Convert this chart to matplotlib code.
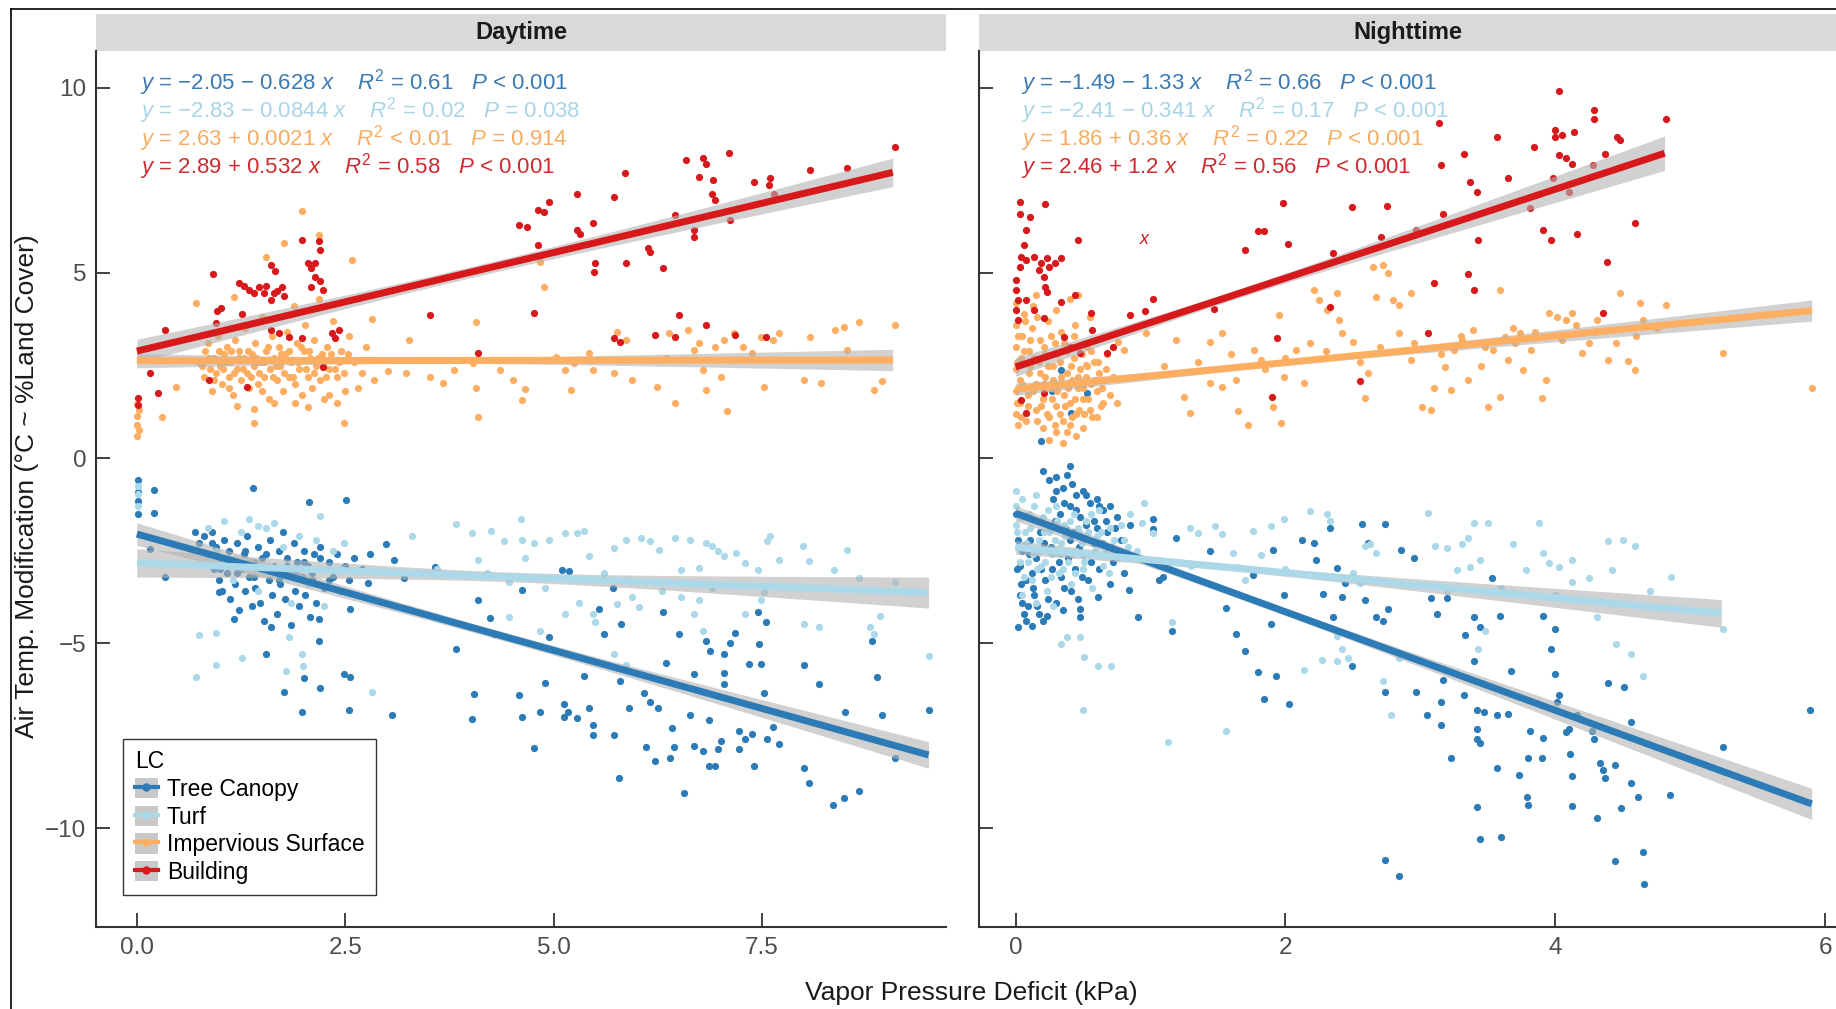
import matplotlib
matplotlib.use("Agg")
import matplotlib.pyplot as plt
import numpy as np
from matplotlib.patches import Rectangle, Patch
from matplotlib.lines import Line2D

plt.rcParams['font.family'] = ['Liberation Sans', 'DejaVu Sans']
plt.rcParams['mathtext.fontset'] = 'custom'
plt.rcParams['mathtext.rm'] = 'Liberation Sans'
plt.rcParams['mathtext.it'] = 'Liberation Sans:italic'

# ---- data ----
lc_names = ["Tree Canopy", "Turf", "Impervious Surface", "Building"]
lc_colors = ["#2c7bb6", "#abd9e9", "#fdae61", "#d7191c"]
eq_colors = ["#3a7ab3", "#a8d5e6", "#f6ad62", "#cf2a2f"]
panel_titles = ["Daytime", "Nighttime"]

# intercept, slope as printed on the chart
day_fit = [(-2.05, -0.628), (-2.83, -0.0844), (2.63, 0.0021), (2.89, 0.532)]
night_fit = [(-1.49, -1.33), (-2.41, -0.341), (1.86, 0.36), (2.46, 1.2)]
day_eq = ["$y$ = \u22122.05 \u2212 0.628 $x$    $R^2$ = 0.61   $P$ < 0.001",
          "$y$ = \u22122.83 \u2212 0.0844 $x$    $R^2$ = 0.02   $P$ = 0.038",
          "$y$ = 2.63 + 0.0021 $x$    $R^2$ < 0.01   $P$ = 0.914",
          "$y$ = 2.89 + 0.532 $x$    $R^2$ = 0.58   $P$ < 0.001"]
night_eq = ["$y$ = \u22121.49 \u2212 1.33 $x$    $R^2$ = 0.66   $P$ < 0.001",
            "$y$ = \u22122.41 \u2212 0.341 $x$    $R^2$ = 0.17   $P$ < 0.001",
            "$y$ = 1.86 + 0.36 $x$    $R^2$ = 0.22   $P$ < 0.001",
            "$y$ = 2.46 + 1.2 $x$    $R^2$ = 0.56   $P$ < 0.001"]
# x span of each fitted line, and CI band shape (mean x, min half width, growth)
day_span = [(0, 9.5), (0, 9.5), (0, 9.07), (0, 9.07)]
night_span = [(0, 5.9), (0, 5.23), (0, 5.9), (0, 4.81)]
day_band = [(4.3, 0.12, 0.065), (4.5, 0.13, 0.08), (3.5, 0.08, 0.05), (4.0, 0.15, 0.07)]
night_band = [(1.8, 0.10, 0.10), (1.6, 0.09, 0.10), (2.0, 0.08, 0.07), (1.6, 0.12, 0.14)]

day_tree = [(0.01,-1.15),(0.01,-1.51),(0.01,-0.92),(0.01,-0.6),(0.21,-0.87),(0.21,-1.47),(1.39,-0.81),(2.07,-1.19),
    (2.51,-1.12),(0.34,-3.22),(0.16,-2.45),(0.98,-3.61),(1.17,-4.34),(1.55,-5.28),(1.61,-4.57),(1.77,-6.32),
    (1.98,-6.85),(2.0,-5.94),(2.18,-4.94),(2.18,-4.34),(2.2,-6.2),(2.49,-5.83),(2.56,-5.92),(2.55,-6.81),
    (3.06,-6.95),(2.99,-2.31),(2.77,-3.38),(2.56,-4.07),(3.08,-2.74),(3.21,-3.25),(3.58,-2.95),(3.83,-5.16),
    (4.02,-7.05),(4.05,-6.38),(4.09,-3.84),(4.24,-4.32),(4.29,-4.75),(4.58,-6.4),(4.62,-6.99),(4.62,-3.55),
    (4.77,-7.84),(4.84,-6.85),(4.9,-6.08),(4.95,-4.84),(5.12,-6.63),(5.12,-6.99),(5.17,-6.85),(5.1,-3.02),
    (5.19,-3.06),(5.28,-7.02),(5.36,-5.89),(5.42,-6.74),(5.47,-7.22),(5.47,-7.49),(5.54,-4.07),(5.61,-4.75),
    (5.71,-3.52),(5.72,-7.47),(5.78,-8.63),(5.8,-6.03),(5.81,-4.48),(5.91,-6.76),(6.09,-6.35),(6.16,-6.58),
    (6.25,-6.76),(6.11,-7.81),(6.22,-8.18),(6.4,-8.11),(6.35,-5.53),(6.31,-4.16),(6.42,-7.29),(6.44,-7.81),
    (6.5,-4.75),(6.57,-9.05),(6.64,-6.95),(6.68,-5.83),(6.68,-7.77),(6.79,-7.9),(6.83,-4.94),(6.88,-5.21),
    (6.86,-7.08),(6.86,-8.32),(6.94,-8.32),(6.97,-7.86),(7.01,-7.63),(7.05,-5.3),(7.05,-5.8),(7.05,-6.1),
    (7.12,-4.98),(7.18,-4.71),(7.23,-7.36),(7.23,-7.86),(7.3,-7.58),(7.35,-5.56),(7.38,-7.45),(7.41,-8.32),
    (7.45,-4.16),(7.47,-5.03),(7.49,-5.56),(7.52,-6.35),(7.55,-4.43),(7.56,-7.58),(7.63,-7.26),(7.71,-7.72),
    (8.0,-5.58),(8.0,-8.36),(8.07,-8.77),(8.19,-6.1),(8.35,-9.37),(8.48,-9.18),(8.66,-9.0),(8.5,-6.85),
    (8.82,-4.94),(8.88,-5.92),(8.94,-6.95),(9.1,-8.11),(9.51,-6.79),
    (0.7,-2.0),(0.75,-2.3),(0.8,-2.1),(0.85,-2.6),(0.9,-2.0),(0.92,-3.0),(0.95,-2.4),(0.98,-3.3),(1.0,-2.7),
    (1.02,-3.6),(1.05,-2.2),(1.08,-3.1),(1.1,-2.5),(1.12,-3.8),(1.15,-2.9),(1.18,-3.4),(1.2,-2.3),(1.22,-4.1),
    (1.25,-3.0),(1.28,-2.6),(1.3,-3.6),(1.32,-2.1),(1.35,-3.2),(1.38,-4.0),(1.4,-2.8),(1.42,-3.5),(1.45,-2.4),
    (1.48,-3.9),(1.5,-3.0),(1.52,-4.4),(1.55,-2.6),(1.58,-3.3),(1.6,-2.2),(1.62,-3.7),(1.65,-2.9),(1.68,-4.2),
    (1.7,-2.5),(1.72,-3.4),(1.75,-2.0),(1.78,-3.8),(1.8,-2.7),(1.82,-3.1),(1.85,-4.5),(1.88,-2.3),(1.9,-3.6),
    (1.92,-2.8),(1.95,-4.0),(1.98,-3.2),(2.0,-2.5),(2.02,-3.7),(2.05,-2.9),(2.08,-4.3),(2.1,-3.3),(2.12,-2.6),
    (2.15,-3.9),(2.18,-3.0),(2.2,-2.4),(2.25,-3.5),(2.3,-2.8),(2.35,-3.2),(2.4,-2.6),(2.45,-3.6),(2.5,-2.9),
    (2.55,-3.3),(2.6,-2.7),(2.7,-3.0),(2.8,-2.6),
    (0.9,-2.3),(1.0,-3.0),(1.1,-2.8),(1.2,-3.1),(1.3,-2.5),(1.4,-3.2),(1.5,-2.7),(1.6,-3.0),(1.7,-3.3),
    (1.8,-2.9),(1.9,-3.1),(2.0,-2.8),(2.1,-3.1),(2.2,-2.7),(2.3,-3.3)]

day_turf = [(0.01,-0.74),(0.01,-0.96),(0.01,-1.28),(0.74,-4.77),(0.71,-5.92),(0.95,-5.58),(0.95,-4.71),(1.26,-5.39),
    (1.34,-1.65),(1.45,-1.83),(1.65,-1.74),(1.83,-4.84),(1.79,-5.74),(1.98,-5.3),(1.99,-5.62),(2.2,-1.56),
    (2.49,-2.29),(2.82,-6.32),(3.83,-1.79),(4.02,-2.01),(4.25,-1.97),(4.4,-2.24),(4.09,-2.74),(4.61,-1.65),
    (4.62,-2.2),(4.77,-2.29),(4.95,-2.2),(5.14,-2.01),(5.28,-2.01),(5.36,-1.97),(4.84,-4.66),(5.14,-4.21),
    (4.47,-4.3),(4.47,-3.34),(4.66,-2.7),(5.43,-2.65),(5.47,-4.21),(5.5,-4.43),(5.72,-2.42),(5.87,-2.2),
    (6.05,-2.15),(6.16,-2.24),(6.27,-2.47),(5.76,-3.93),(5.94,-3.75),(6.02,-4.02),(6.46,-2.15),(6.53,-3.02),
    (6.64,-2.2),(6.75,-2.97),(6.83,-2.29),(6.9,-2.38),(6.97,-2.52),(7.05,-2.65),(6.53,-3.75),(6.68,-4.21),
    (6.75,-3.84),(6.79,-4.66),(7.19,-2.56),(7.3,-2.84),(7.45,-3.02),(7.56,-2.24),(7.71,-2.74),(7.52,-3.61),
    (7.49,-3.84),(7.99,-2.38),(8.06,-2.79),(8.52,-2.47),(8.37,-3.02),(8.0,-4.48),(8.19,-4.57),(8.66,-3.25),
    (8.8,-4.57),(8.92,-4.25),(8.85,-4.75),(9.1,-3.34),(9.51,-5.35),(5.72,-5.3),(5.87,-5.58),
    (0.85,-1.9),(0.95,-2.5),(1.05,-1.7),(1.15,-3.3),(1.25,-2.0),(1.35,-2.8),(1.45,-3.6),(1.55,-1.9),(1.65,-3.1),
    (1.75,-2.4),(1.85,-3.9),(1.95,-2.1),(2.05,-3.4),(2.15,-2.2),(2.25,-4.0),(2.35,-2.5),(2.45,-3.0),(3.3,-2.1),
    (3.6,-3.0),(4.2,-3.1),(4.9,-3.5),(5.3,-3.9),(5.6,-3.1),(5.9,-3.3),(6.3,-3.6),(6.9,-3.5),(7.3,-4.2),(7.6,-2.1)]

day_imperv = [(0.0,1.45),(0.0,1.15),(0.0,0.9),(0.0,0.6),(0.02,1.3),(0.03,0.75),(0.3,1.12),(0.47,1.93),(0.71,4.2),
    (1.17,4.36),(1.55,5.42),(1.77,5.8),(1.98,6.67),(2.18,6.02),(2.58,5.35),(2.82,3.75),(2.49,0.96),(1.4,1.32),
    (1.4,0.94),(2.05,1.39),(3.26,3.19),(3.01,2.34),(3.23,2.31),(3.52,2.2),(3.67,2.04),(3.81,2.38),(4.07,3.68),
    (4.03,2.56),(4.07,1.89),(4.09,1.12),(4.36,2.38),(4.51,2.11),(4.66,1.86),(4.62,1.57),(4.88,4.63),(4.84,5.3),
    (4.92,2.65),(5.03,2.74),(5.14,2.38),(5.25,2.56),(5.43,2.83),(5.21,1.84),(5.47,2.38),(5.76,3.41),(5.72,2.31),
    (5.87,3.19),(5.94,2.11),(6.22,2.65),(6.35,2.7),(6.24,1.93),(6.39,3.37),(6.46,1.48),(6.61,3.46),(6.68,2.92),
    (6.74,3.1),(6.79,2.38),(6.83,1.84),(6.94,3.01),(7.05,3.19),(7.16,3.37),(7.08,1.26),(7.01,2.2),(7.27,3.01),
    (7.38,2.83),(7.49,3.28),(7.52,1.93),(7.63,3.19),(7.71,3.37),(8.0,2.11),(8.08,3.28),(8.21,2.02),(8.38,3.46),
    (8.48,3.55),(8.52,2.92),(8.66,3.68),(8.85,1.84),(8.94,2.07),(9.1,3.59),
    (0.75,2.6),(0.8,2.2),(0.82,2.9),(0.85,3.1),(0.88,2.4),(0.9,1.8),(0.92,2.7),(0.95,2.3),(0.97,3.3),(1.0,2.5),
    (1.02,2.0),(1.05,2.8),(1.08,3.0),(1.1,2.2),(1.12,2.6),(1.15,1.7),(1.18,3.2),(1.2,2.4),(1.22,2.9),(1.25,2.1),
    (1.28,2.7),(1.3,3.5),(1.32,2.3),(1.35,1.9),(1.38,2.8),(1.4,2.5),(1.42,3.1),(1.45,2.0),(1.48,2.6),(1.5,3.8),
    (1.52,2.2),(1.55,2.9),(1.58,1.6),(1.6,2.4),(1.62,3.3),(1.65,2.7),(1.68,2.1),(1.7,3.0),(1.72,2.5),(1.75,1.8),
    (1.78,2.8),(1.8,3.4),(1.82,2.2),(1.85,2.6),(1.88,4.1),(1.9,2.0),(1.92,3.1),(1.95,2.4),(1.98,1.7),(2.0,2.9),
    (2.02,3.6),(2.05,2.2),(2.08,2.7),(2.1,1.9),(2.12,3.2),(2.15,2.5),(2.18,4.3),(2.2,2.1),(2.22,2.8),(2.25,1.6),
    (2.28,3.0),(2.3,2.4),(2.35,3.7),(2.4,2.2),(2.45,2.9),(2.5,1.8),(2.55,3.3),(2.6,2.6),(2.65,1.9),(2.7,2.3),
    (2.75,3.0),(2.85,2.1),(1.2,1.4),(1.65,1.5),(2.4,1.5),
    (0.78,2.5),(0.86,2.7),(0.93,2.1),(0.99,2.9),(1.03,2.4),(1.07,2.6),(1.13,2.9),(1.17,2.3),(1.23,2.7),(1.27,2.4),
    (1.33,2.9),(1.37,2.2),(1.43,2.7),(1.47,2.3),(1.53,2.6),(1.57,3.0),(1.63,2.2),(1.67,2.5),(1.73,2.8),(1.77,2.3),
    (1.83,2.9),(1.87,2.2),(1.93,2.6),(1.97,3.0),(2.03,2.4),(2.07,2.9),(2.13,2.3),(2.17,2.7),(2.23,2.5),(2.27,2.2),
    (2.33,2.8),(2.38,2.4),(2.43,2.6),(2.48,2.3),(2.53,2.8),(1.1,1.9),(1.5,1.8),(1.9,1.5),(2.3,1.7)]

day_building = [(0.01,1.62),(0.01,1.44),(0.16,2.29),(0.25,1.75),(0.34,3.46),(0.91,4.97),(0.96,3.98),(1.01,4.04),
    (0.95,3.64),(1.26,3.89),(1.23,4.72),(1.28,4.64),(1.35,4.54),(1.4,4.45),(1.46,4.61),(1.52,4.47),(1.55,4.65),
    (1.61,4.27),(1.65,4.45),(1.68,4.52),(1.74,4.63),(1.77,4.38),(1.61,5.21),(1.66,5.06),(1.98,5.9),(2.18,5.87),
    (2.2,5.63),(2.05,5.26),(2.14,5.26),(2.09,5.12),(2.14,4.9),(2.2,4.79),(2.09,4.63),(2.23,4.54),(1.61,3.46),
    (1.7,3.37),(1.83,3.28),(1.98,3.23),(2.34,3.37),(2.38,3.23),(2.42,3.46),(1.32,1.93),(2.23,2.47),(0.87,2.11),
    (3.52,3.86),(4.09,2.85),(4.77,3.91),(4.58,6.29),(4.68,6.24),(4.81,6.69),(4.88,6.65),(4.95,6.92),(4.81,5.75),
    (5.28,7.14),(5.72,7.05),(5.28,6.15),(5.32,6.06),(5.47,6.35),(5.5,5.26),(5.49,5.03),(5.87,5.26),(5.86,7.71),
    (6.13,5.66),(6.16,5.57),(6.31,5.12),(5.72,3.23),(5.8,3.14),(6.22,3.32),(6.5,3.86),(6.46,6.56),(6.59,8.04),
    (6.79,8.09),(6.83,7.95),(7.11,8.25),(6.75,7.59),(6.91,7.5),(6.9,7.14),(6.94,6.96),(6.68,6.15),(6.68,5.96),
    (6.83,3.59),(7.18,3.32),(7.12,6.42),(7.4,7.46),(7.6,7.55),(7.58,7.37),(7.65,7.14),(7.55,3.28),(8.08,7.77),
    (8.52,7.82),(9.1,8.4),(6.46,3.28)]

night_tree = [(0.34,2.38),(0.27,1.8),(0.42,1.17),(0.53,1.75),(0.19,0.45),(0.4,-0.22),(0.41,1.21),
    (0.02,-4.57),(0.12,-4.53),(0.23,-4.25),(0.48,-4.07),(0.48,-4.3),(0.61,-3.75),(0.84,-3.57),(0.91,-4.3),
    (1.02,-1.65),(1.02,-1.92),(1.09,-3.2),(1.06,-3.29),(1.16,-4.66),(1.19,-2.15),(1.44,-2.52),(1.56,-4.04),
    (1.63,-4.74),(1.7,-5.21),(1.76,-3.16),(1.8,-5.78),(1.93,-5.87),(1.84,-6.51),(1.89,-4.48),(1.91,-2.47),
    (1.99,-3.7),(2.03,-6.63),(2.12,-2.2),(2.21,-2.29),(2.23,-2.74),(2.28,-3.66),(2.33,-1.88),(2.35,-4.3),
    (2.38,-2.97),(2.42,-3.75),(2.44,-3.38),(2.49,-5.62),(2.57,-1.79),(2.74,-1.79),(2.61,-2.29),(2.59,-3.84),
    (2.67,-4.3),(2.72,-4.39),(2.76,-4.07),(2.74,-6.32),(2.74,-10.85),(2.84,-11.28),(2.86,-2.47),(2.95,-2.7),
    (2.97,-6.31),(3.05,-6.95),(3.08,-3.79),(3.12,-4.21),(3.15,-6.58),(3.15,-7.22),(3.17,-5.99),(3.2,-3.79),
    (3.23,-8.11),(3.32,-6.4),(3.33,-4.77),(3.4,-4.3),(3.44,-4.57),(3.42,-9.41),(3.44,-10.28),(3.42,-7.31),
    (3.42,-7.58),(3.44,-7.68),(3.42,-6.81),(3.47,-6.85),(3.4,-5.48),(3.46,-6.08),(3.53,-3.25),(3.57,-6.95),
    (3.65,-6.9),(3.57,-8.36),(3.59,-4.25),(3.6,-10.23),(3.67,-5.76),(3.73,-8.57),(3.79,-9.14),(3.8,-9.37),
    (3.8,-8.11),(3.81,-7.36),(3.9,-8.09),(3.91,-7.57),(3.91,-4.25),(3.97,-5.16),(4.0,-4.62),(4.0,-5.83),
    (4.01,-6.58),(4.03,-6.4),(4.08,-7.4),(4.1,-7.31),(4.11,-8.0),(4.12,-8.59),(4.12,-9.39),(4.16,-6.95),
    (4.19,-7.04),(4.27,-7.36),(4.29,-7.58),(4.31,-9.73),(4.33,-8.22),(4.35,-8.41),(4.37,-8.63),(4.44,-8.3),
    (4.39,-6.08),(4.51,-6.17),(4.44,-10.87),(4.49,-9.46),(4.56,-7.13),(4.56,-8.77),(4.61,-9.14),(4.65,-10.64),
    (4.66,-11.51),(4.85,-9.09),(5.24,-7.81),(5.89,-6.81),
    (0.2,-0.35),(0.25,-0.6),(0.3,-0.5),(0.35,-0.8),(0.38,-0.45),(0.42,-0.7),(0.45,-1.0),(0.5,-0.9),(0.55,-1.2),
    (0.6,-1.1),(0.65,-1.4),(0.7,-1.3),(0.75,-1.6),(0.28,-1.1),(0.33,-1.5),(0.4,-1.3),(0.48,-1.6),(0.58,-1.7),
    (0.68,-2.0),(0.78,-2.2),(0.85,-1.8),(0.0,-1.5),(0.02,-2.2),(0.03,-2.9),(0.04,-3.4),(0.05,-3.9),(0.06,-4.2),
    (0.1,-2.6),(0.12,-3.1),(0.14,-3.7),(0.16,-4.0),(0.18,-2.0),(0.22,-3.3),(0.26,-2.4),(0.3,-3.9),(0.32,-2.8),
    (0.36,-3.5),(0.4,-2.2),(0.44,-3.0),(0.46,-3.8),(0.5,-2.6),(0.54,-3.3),(0.58,-2.3),(0.62,-3.0),(0.66,-2.6),
    (0.7,-3.4),(0.72,-2.8),(0.8,-3.1),(0.08,-4.4),(0.2,-4.4),(0.35,-4.1),
    (0.01,-3.0),(0.03,-3.7),(0.05,-2.5),(0.08,-3.3),(0.09,-4.0),(0.11,-2.2),(0.13,-3.5),(0.15,-2.7),(0.17,-4.2),
    (0.19,-3.0),(0.21,-2.3),(0.24,-3.8),(0.27,-3.0),(0.29,-1.7),(0.31,-2.5),(0.34,-3.2),(0.37,-1.9),(0.39,-2.7),
    (0.41,-3.6),(0.43,-2.0),(0.47,-2.4),(0.49,-3.2),(0.52,-1.8),(0.56,-2.8),(0.6,-1.9),(0.64,-2.3),(0.67,-1.7),
    (0.71,-2.4),(0.74,-1.9),(0.82,-2.6),(0.3,-0.9),(0.36,-1.2),(0.45,-1.4),(0.52,-1.0),(0.62,-1.3)]

night_turf = [(0.34,-5.03),(0.38,-4.84),(0.48,-4.84),(0.51,-5.37),(0.61,-5.62),(0.71,-5.62),(0.5,-6.81),
    (0.94,-1.74),(1.02,-2.01),(1.13,-7.66),(1.16,-4.43),(1.29,-1.88),(1.35,-2.01),(1.48,-1.83),(1.53,-2.06),
    (1.56,-7.36),(1.61,-2.56),(1.65,-2.93),(1.76,-1.97),(1.82,-2.61),(1.89,-1.83),(1.99,-1.65),(2.14,-5.71),
    (2.18,-1.42),(2.27,-5.44),(2.38,-5.48),(2.31,-1.51),(2.33,-1.69),(2.38,-4.8),(2.42,-5.16),(2.46,-5.39),
    (2.59,-2.38),(2.63,-2.33),(2.67,-2.56),(2.55,-3.38),(2.61,-3.29),(2.72,-6.03),(2.78,-6.95),(2.84,-5.39),
    (3.06,-1.47),(3.11,-2.38),(3.2,-2.42),(3.31,-2.33),(3.35,-2.15),(3.27,-3.02),(3.37,-2.93),(3.44,-2.74),
    (3.4,-1.74),(3.5,-1.74),(3.43,-5.16),(3.48,-4.66),(3.69,-2.33),(3.78,-3.02),(3.88,-1.74),(3.91,-2.56),
    (3.95,-2.84),(4.03,-2.93),(4.12,-2.74),(4.12,-3.34),(4.25,-3.25),(4.31,-4.3),(4.39,-2.24),(4.5,-2.2),
    (4.59,-2.38),(4.42,-3.02),(4.45,-5.01),(4.56,-5.3),(4.65,-5.89),(4.86,-3.2),(5.24,-4.62),
    (1.3,-2.9),(1.7,-3.3),(2.0,-3.0),(2.5,-3.1),(2.9,-3.4),(3.2,-3.6),(3.6,-3.5),(4.0,-3.7),(4.4,-3.9),(4.7,-3.6),
    (0.0,-0.9),(0.0,-1.3),(0.0,-1.8),(0.02,-2.4),(0.05,-1.1),(0.07,-2.0),(0.09,-2.8),(0.1,-1.5),(0.12,-3.3),
    (0.15,-1.0),(0.17,-2.2),(0.19,-2.9),(0.2,-1.6),(0.23,-3.6),(0.25,-2.0),(0.27,-2.6),(0.3,-1.3),(0.32,-3.1),
    (0.34,-2.3),(0.36,-1.8),(0.39,-2.8),(0.41,-3.4),(0.43,-1.5),(0.45,-2.5),(0.47,-2.0),(0.5,-3.0),(0.52,-1.7),
    (0.55,-2.6),(0.57,-3.5),(0.6,-2.1),(0.62,-1.4),(0.65,-2.9),(0.68,-2.4),(0.7,-1.9),(0.75,-2.7),(0.8,-2.2),
    (0.85,-1.5),(0.9,-2.5),(0.95,-1.2),(0.05,-3.7),(0.15,-3.9),(0.28,-4.0),
    (0.01,-2.0),(0.03,-2.8),(0.04,-1.6),(0.06,-3.2),(0.08,-2.3),(0.11,-1.9),(0.13,-2.6),(0.14,-1.3),(0.16,-3.0),
    (0.18,-2.5),(0.21,-2.0),(0.22,-2.8),(0.24,-1.4),(0.26,-3.2),(0.29,-2.2),(0.31,-1.7),(0.33,-2.6),(0.35,-3.0),
    (0.37,-2.1),(0.4,-1.7),(0.42,-2.6),(0.44,-3.1),(0.46,-1.9),(0.49,-2.3),(0.51,-2.8),(0.54,-2.0),(0.56,-1.5),
    (0.59,-2.5),(0.63,-2.0),(0.66,-2.6),(0.69,-3.1),(0.73,-2.2),(0.78,-1.8),(0.83,-2.4)]

night_imperv = [(0.46,4.4),(0.52,2.52),(0.76,3.14),(0.8,2.92),(0.97,3.37),(1.19,3.19),(1.25,1.66),(1.29,1.21),
    (1.44,3.14),(1.53,3.37),(1.44,2.02),(1.53,1.93),(1.63,2.11),(1.65,1.26),(1.72,0.9),(1.77,2.92),(1.82,2.65),
    (1.91,1.39),(1.97,0.94),(1.99,2.2),(1.95,3.86),(2.08,2.92),(2.14,2.02),(2.18,3.1),(2.21,4.54),(2.25,4.27),
    (2.31,4.0),(2.38,4.45),(2.4,3.73),(2.42,3.37),(2.5,3.14),(2.59,1.62),(2.61,2.29),(2.65,5.17),(2.72,5.21),
    (2.76,4.99),(2.67,4.36),(2.8,4.27),(2.84,4.13),(2.93,4.45),(2.84,3.37),(2.93,2.65),(3.01,1.39),(3.08,1.3),
    (3.18,2.47),(3.25,2.92),(3.31,3.19),(3.39,3.46),(3.1,1.89),(3.23,1.84),(3.35,2.11),(3.48,3.01),(3.54,2.92),
    (3.63,3.28),(3.69,3.5),(3.5,1.39),(3.59,1.66),(3.65,2.65),(3.76,2.38),(3.82,2.92),(3.9,1.62),(3.93,2.11),
    (3.95,3.91),(4.01,3.82),(4.08,3.73),(4.12,3.91),(4.2,2.83),(4.25,3.1),(4.31,3.73),(4.39,2.65),(4.48,4.45),
    (4.54,2.61),(4.59,2.38),(4.63,4.18),(4.65,3.73),(4.82,4.13),(5.24,2.83),(5.9,1.89),(3.59,4.54),(3.74,3.37),
    (1.1,2.5),(1.35,2.6),(1.6,2.8),(1.85,2.4),(2.0,2.7),(2.3,2.9),(2.55,2.6),(2.7,3.0),(2.95,3.1),(3.15,2.8),
    (3.3,3.3),(3.45,2.5),(3.7,3.1),(3.85,3.4),(4.05,3.2),(4.15,3.6),(4.3,3.4),(4.45,3.1),(4.6,3.3),(4.75,3.5),
    (0.0,1.2),(0.0,1.8),(0.0,2.4),(0.0,3.0),(0.0,3.6),(0.0,4.2),(0.02,0.9),(0.03,1.5),(0.03,2.1),(0.04,2.7),
    (0.05,3.3),(0.06,3.9),(0.08,1.0),(0.09,1.7),(0.1,2.3),(0.1,2.9),(0.12,3.5),(0.13,4.1),(0.15,1.3),(0.15,2.0),
    (0.17,2.6),(0.18,3.2),(0.2,0.8),(0.2,1.6),(0.22,2.2),(0.22,2.8),(0.24,3.7),(0.25,1.1),(0.26,1.9),(0.28,2.5),
    (0.29,3.1),(0.3,0.7),(0.3,1.4),(0.32,2.0),(0.33,2.6),(0.34,3.4),(0.35,1.0),(0.36,1.7),(0.38,2.3),(0.38,2.9),
    (0.4,0.9),(0.4,1.5),(0.42,2.1),(0.43,2.7),(0.44,3.6),(0.45,1.2),(0.46,1.9),(0.48,2.4),(0.5,0.8),(0.5,1.6),
    (0.52,2.2),(0.53,3.0),(0.55,1.3),(0.56,2.0),(0.58,2.6),(0.6,1.1),(0.6,1.8),(0.62,2.3),(0.65,1.5),(0.66,2.1),
    (0.68,2.8),(0.7,1.7),(0.3,4.0),(0.15,4.4),(0.4,4.3),(0.25,0.5),(0.45,0.6),(0.35,0.4),(0.55,3.8),
    (0.01,1.5),(0.01,2.6),(0.02,3.3),(0.04,1.1),(0.05,2.0),(0.06,2.9),(0.07,3.7),(0.09,1.4),(0.11,2.5),(0.11,3.2),
    (0.13,1.8),(0.14,2.7),(0.16,3.8),(0.16,1.0),(0.18,2.3),(0.19,1.4),(0.21,3.0),(0.21,2.0),(0.23,1.2),(0.24,2.5),
    (0.26,3.3),(0.27,1.6),(0.28,2.1),(0.29,0.9),(0.31,2.8),(0.31,1.8),(0.33,1.2),(0.34,2.2),(0.36,3.1),(0.37,1.4),
    (0.38,0.7),(0.39,1.9),(0.41,2.5),(0.42,1.1),(0.43,3.3),(0.44,1.6),(0.46,2.2),(0.47,1.3),(0.49,2.8),(0.5,1.9),
    (0.51,1.2),(0.53,2.5),(0.54,1.6),(0.56,2.9),(0.57,1.1),(0.59,2.1),(0.61,2.6),(0.63,1.4),(0.64,1.9),(0.67,2.4),
    (0.72,2.2),(0.75,1.5)]

night_building = [(0.03,6.92),(0.03,6.6),(0.08,6.15),(0.06,5.75),(0.04,5.44),(0.11,6.51),(0.22,6.87),(0.46,5.9),
    (0.03,5.17),(0.08,5.35),(0.14,5.44),(0.19,5.26),(0.23,5.39),(0.25,5.17),(0.29,5.26),(0.34,5.39),(0.17,5.08),
    (0.21,4.9),(0.0,4.81),(0.0,4.54),(0.02,4.27),(0.0,4.0),(0.02,3.73),(0.22,4.63),(0.23,4.49),(0.34,4.22),
    (0.44,4.4),(0.08,4.27),(0.14,4.0),(0.21,3.77),(0.56,3.91),(0.57,3.46),(0.36,3.28),(0.4,3.01),(0.48,2.83),
    (0.68,2.83),(0.72,3.01),(0.04,1.57),(0.08,1.21),(0.21,1.75),(0.85,3.86),(0.96,3.98),(1.02,4.29),(1.47,4.02),
    (1.7,5.62),(1.8,6.13),(1.84,6.13),(1.98,6.89),(2.02,5.77),(2.35,5.54),(2.49,6.78),(2.75,6.8),(2.71,5.96),
    (2.97,6.17),(3.1,4.72),(3.17,6.6),(3.15,7.91),(3.14,9.06),(3.32,8.22),(3.35,4.97),(3.4,4.54),(3.37,7.46),
    (3.42,7.19),(3.43,5.88),(3.57,8.67),(3.65,7.55),(3.84,8.4),(3.81,6.74),(3.91,6.15),(3.97,5.88),(4.0,8.85),
    (4.03,9.91),(4.0,8.67),(4.05,8.72),(4.14,8.8),(4.03,8.18),(4.08,8.09),(4.12,7.95),(4.16,6.06),(3.98,7.55),
    (4.1,7.19),(4.29,9.39),(4.29,9.16),(4.28,7.91),(4.37,8.22),(4.46,8.67),(4.48,8.58),(4.38,5.3),(4.59,6.35),
    (4.82,9.16),(2.33,4.09),(1.94,3.23),(2.55,2.07),(1.9,1.66),(3.06,3.39),(4.35,3.91)]

day_points = [day_tree, day_turf, day_imperv, day_building]
night_points = [night_tree, night_turf, night_imperv, night_building]

# ---- figure ----
fig = plt.figure(figsize=(18.36, 10.09), dpi=100)
ax_day = fig.add_axes([0.0523, 0.0813, 0.4630, 0.8677])
ax_night = fig.add_axes([0.5333, 0.0813, 0.4667, 0.8677])

panels = [
    (ax_day, panel_titles[0], day_points, day_fit, day_span, day_band, day_eq, (-0.49, 9.71), [0, 2.5, 5, 7.5], ["0.0", "2.5", "5.0", "7.5"]),
    (ax_night, panel_titles[1], night_points, night_fit, night_span, night_band, night_eq, (-0.27, 6.08), [0, 2, 4, 6], ["0", "2", "4", "6"]),
]

for ax, title, pts, fits, spans, bands, eqs, xlim, xt, xtl in panels:
    for i in range(4):
        xs = [p[0] for p in pts[i]]
        ys = [p[1] for p in pts[i]]
        ax.scatter(xs, ys, s=27, color=lc_colors[i], linewidths=0, zorder=2)
    for i in range(4):
        b0, b1 = fits[i]
        xm, a, g = bands[i]
        xx = np.linspace(spans[i][0], spans[i][1], 100)
        yy = b0 + b1 * xx
        hw = np.sqrt(a ** 2 + (g * (xx - xm)) ** 2)
        ax.fill_between(xx, yy - hw, yy + hw, color="#b3b3b3", alpha=0.6, linewidth=0, zorder=3)
        ax.plot(xx, yy, color=lc_colors[i], lw=5, solid_capstyle="butt", zorder=4)
    for i in range(4):
        ax.text(0.052 if ax is ax_day else 0.049, 0.965 - i * 0.032, eqs[i], transform=ax.transAxes,
                color=eq_colors[i], fontsize=16, va="center", ha="left")

    ax.set_xlim(*xlim)
    ax.set_ylim(-12.66, 10.98)
    ax.set_xticks(xt)
    ax.set_xticklabels(xtl)
    ax.set_yticks([-10, -5, 0, 5, 10])
    ax.tick_params(direction="in", length=10, width=1.3, color="#333333",
                   labelsize=17.5, labelcolor="#4d4d4d", pad=7)
    for s in ["top", "right"]:
        ax.spines[s].set_visible(False)
    for s in ["left", "bottom"]:
        ax.spines[s].set_linewidth(1.5)
        ax.spines[s].set_color("#333333")
    # facet strip
    ax.add_patch(Rectangle((0, 1.0), 1, 0.0428, transform=ax.transAxes, facecolor="#d9d9d9",
                           edgecolor="none", clip_on=False))
    ax.text(0.5, 1.0214, title, transform=ax.transAxes, ha="center", va="center",
            fontsize=17, fontweight="bold", color="#1a1a1a")

ax_night.set_yticklabels([])
ax_night.text(0.95, 5.89, "x", color="#d7191c", fontsize=13, style="italic", ha="center", va="center")

handles = [(Patch(facecolor="#c8c8c8", edgecolor="none"),
            Line2D([], [], color=c, lw=3, marker="o", markersize=5)) for c in lc_colors]
leg = ax_day.legend(handles, lc_names, title="LC", loc="lower left", bbox_to_anchor=(0.032, 0.036),
                    borderaxespad=0, fontsize=16.5, title_fontsize=16.5, frameon=True, fancybox=False,
                    edgecolor="black", handlelength=1.0, handleheight=1.0, labelspacing=0.2,
                    handletextpad=0.4, borderpad=0.5, alignment="left")
leg.get_frame().set_linewidth(1.0)

fig.text(0.529, 0.016, "Vapor Pressure Deficit (kPa)", ha="center", va="center", fontsize=19, color="#1a1a1a")
fig.text(0.0145, 0.518, "Air Temp. Modification (\u00b0C ~ %Land Cover)", ha="center", va="center",
         rotation=90, fontsize=19, color="#1a1a1a")

# outer frame
fig.add_artist(Line2D([0.0062, 0.0062], [0.0, 0.991], color="black", lw=1.2))
fig.add_artist(Line2D([0.0062, 1.0], [0.991, 0.991], color="black", lw=1.2))

fig.savefig("out.png", dpi=100)
